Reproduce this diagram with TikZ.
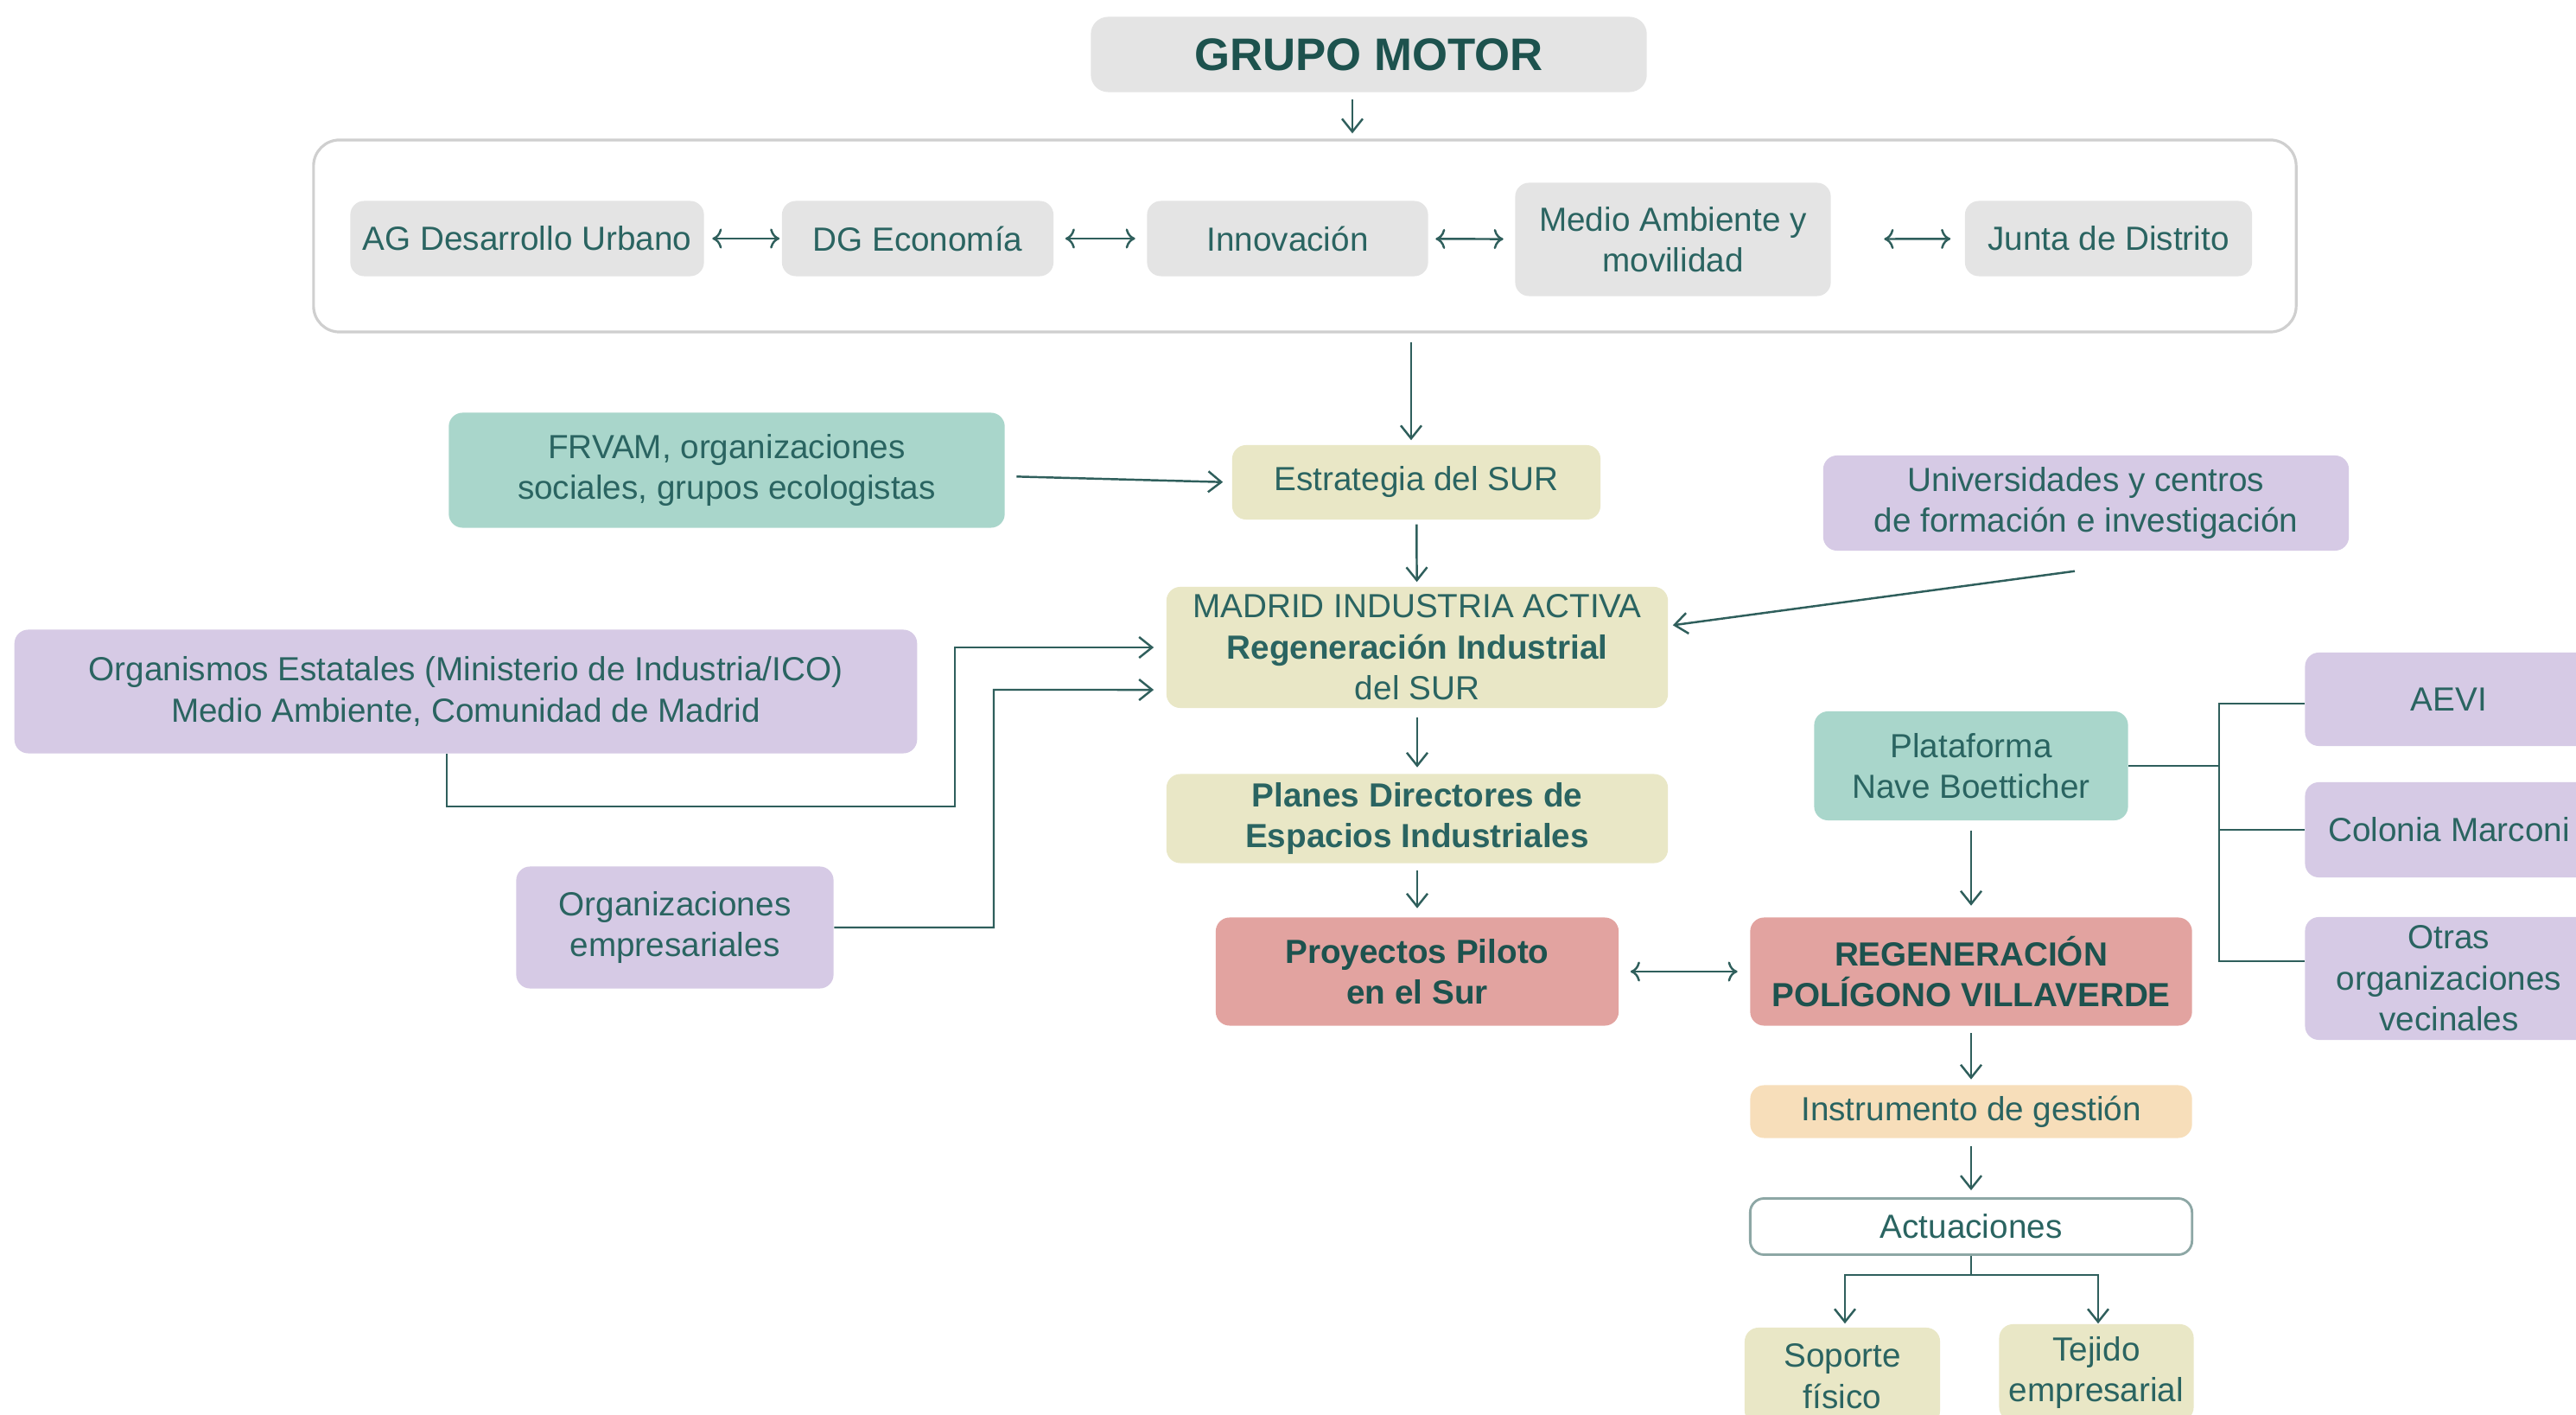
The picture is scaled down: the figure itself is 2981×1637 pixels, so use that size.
\documentclass[tikz,border=0pt]{standalone}
\usepackage{fontspec}
\setmainfont{Liberation Sans}
\usetikzlibrary{arrows.meta}
\definecolor{txt}{HTML}{2A6461}
\definecolor{txtdark}{HTML}{1D524E}
\definecolor{linec}{HTML}{2F5F5C}
\definecolor{boxgrey}{HTML}{E4E4E4}
\definecolor{boxsand}{HTML}{E9E7C6}
\definecolor{boxmint}{HTML}{A9D6CB}
\definecolor{boxlilac}{HTML}{D6CAE5}
\definecolor{boxrose}{HTML}{E2A3A0}
\definecolor{boxpeach}{HTML}{F7DEBA}
\definecolor{framec}{HTML}{CFCFCF}
\tikzset{
  box/.style={rounded corners=0.16cm, inner sep=0pt, align=center, text=txt,
    font=\fontsize{11}{13.5}\selectfont},
  grey/.style={box, fill=boxgrey},
  sand/.style={box, fill=boxsand},
  mint/.style={box, fill=boxmint},
  lilac/.style={box, fill=boxlilac},
  rose/.style={box, fill=boxrose, text=txtdark, font=\fontsize{11}{13.5}\selectfont\bfseries},
  peach/.style={box, fill=boxpeach},
  arr/.style={draw=linec, line width=0.7pt, -{Straight Barb[length=1.5mm,width=2.4mm]}},
  link/.style={draw=linec, line width=0.8pt}
}
\begin{document}
\begin{tikzpicture}[x=0.01cm, y=-0.01cm]
  \useasboundingbox (0,0) rectangle (2981,1637);
  \fill[white] (0,0) rectangle (2981,1637);
  \clip (0,0) rectangle (2981,1637);
  \node[grey, rounded corners=0.2cm, minimum width=6.43cm, minimum height=0.87cm, text=txtdark,
    font=\fontsize{15}{18}\selectfont\bfseries] (grupo) at (1584,63) {GRUPO MOTOR};
  \node[draw=framec, line width=0.9pt, rounded corners=0.3cm, minimum width=22.93cm,
    minimum height=2.22cm] (panel) at (1510,273) {};
  \node[grey, minimum width=4.09cm, minimum height=0.87cm] (ag) at (610,276) {AG Desarrollo Urbano};
  \node[grey, minimum width=3.14cm, minimum height=0.87cm] (dg) at (1062,276) {DG Economía};
  \node[grey, minimum width=3.25cm, minimum height=0.87cm] (innov) at (1490,276) {Innovación};
  \node[grey, minimum width=3.65cm, minimum height=1.31cm] (medio) at (1936,277) {Medio Ambiente y\\movilidad};
  \node[grey, minimum width=3.32cm, minimum height=0.87cm] (junta) at (2440,276) {Junta de Distrito};
  \node[sand, minimum width=4.26cm, minimum height=0.86cm] (estrategia) at (1639,558) {Estrategia del SUR};
  \node[mint, minimum width=6.43cm, minimum height=1.33cm] (frvam) at (841,544) {FRVAM, organizaciones\\sociales, grupos ecologistas};
  \node[lilac, minimum width=6.08cm, minimum height=1.10cm] (univ) at (2414,582) {Universidades y centros\\de formación e investigación};
  \node[sand, minimum width=5.80cm, minimum height=1.40cm] (madrid) at (1640,749) {MADRID INDUSTRIA ACTIVA\\\textbf{Regeneración Industrial}\\del SUR};
  \node[lilac, minimum width=10.44cm, minimum height=1.43cm] (organismos) at (539,800) {Organismos Estatales (Ministerio de Industria/ICO)\\Medio Ambiente, Comunidad de Madrid};
  \node[lilac, minimum width=3.67cm, minimum height=1.41cm] (orgemp) at (781,1073) {Organizaciones\\empresariales};
  \node[sand, minimum width=5.80cm, minimum height=1.03cm, font=\fontsize{11}{13.5}\selectfont\bfseries] (planes) at (1640,947) {Planes Directores de\\Espacios Industriales};
  \node[rose, minimum width=4.66cm, minimum height=1.25cm] (proyectos) at (1640,1124) {Proyectos Piloto\\en el Sur};
  \node[rose, minimum width=5.11cm, minimum height=1.25cm] (regen) at (2281,1124) {REGENERACIÓN\\POLÍGONO VILLAVERDE};
  \node[mint, minimum width=3.63cm, minimum height=1.26cm] (plataforma) at (2281,886) {Plataforma\\Nave Boetticher};
  \node[lilac, minimum width=3.33cm, minimum height=1.08cm] (aevi) at (2834,809) {AEVI};
  \node[lilac, minimum width=3.33cm, minimum height=1.10cm] (colonia) at (2834,960) {Colonia Marconi};
  \node[lilac, minimum width=3.33cm, minimum height=1.42cm] (otras) at (2834,1132) {Otras\\organizaciones\\vecinales};
  \node[peach, minimum width=5.11cm, minimum height=0.61cm] (instrumento) at (2281,1286) {Instrumento de gestión};
  \node[box, draw=linec!55, line width=0.8pt, fill=white, minimum width=5.11cm, minimum height=0.65cm] (actuaciones) at (2281,1419) {Actuaciones};
  \node[sand, minimum width=2.26cm, minimum height=1.12cm] (soporte) at (2132,1592) {Soporte\\físico};
  \node[sand, minimum width=2.25cm, minimum height=1.12cm] (tejido) at (2426,1588) {Tejido\\empresarial};
  \coordinate (bus) at (2568,886);
  \coordinate (split) at (2281,1475);
  \begin{scope}[arr]
    \draw[shorten <=0.08cm, shorten >=0.06cm] ([xshift=-0.19cm]grupo.south) -- ([xshift=-0.19cm]grupo.south |- panel.north);
    \draw[<->, shorten <=0.09cm, shorten >=0.02cm] (ag) -- (dg);
    \draw[<->, shorten <=0.13cm, shorten >=0.13cm] (dg) -- (innov);
    \draw[<->, shorten <=0.08cm, shorten >=0.13cm] (innov) -- (medio);
    \draw[<->, shorten <=0.61cm, shorten >=0.16cm] (medio) -- (junta);
    \draw[shorten <=0.1cm, shorten >=0.05cm] ([xshift=-0.06cm]estrategia.north |- panel.south) -- ([xshift=-0.06cm]estrategia.north);
    \draw[shorten <=0.13cm, shorten >=0.1cm] ([yshift=-0.07cm]frvam.east) -- (estrategia.west);
    \draw[shorten >=0.05cm] ([xshift=-0.13cm,yshift=-0.23cm]univ.south) -- ([yshift=0.25cm]madrid.east);
    \draw[shorten <=0.05cm, shorten >=0.05cm] (estrategia) -- (madrid);
    \draw[shorten >=0.14cm] ([xshift=-0.22cm]organismos.south) |- (1105,933) |- (madrid.west);
    \draw[shorten >=0.14cm] (orgemp.east) -| (1150,798) -- ([yshift=-0.49cm]madrid.west);
    \draw[shorten <=0.1cm, shorten >=0.07cm] (madrid) -- (planes);
    \draw[shorten <=0.08cm, shorten >=0.1cm] (planes) -- (proyectos);
    \draw[<->, shorten <=0.13cm, shorten >=0.14cm] (proyectos) -- (regen);
    \draw[shorten <=0.11cm, shorten >=0.13cm] (plataforma) -- (regen);
    \draw[shorten <=0.08cm, shorten >=0.06cm] (regen) -- (instrumento);
    \draw[shorten <=0.09cm, shorten >=0.08cm] (instrumento) -- (actuaciones);
    \draw[shorten >=0.04cm] (split) -| ([xshift=0.03cm]soporte.north);
    \draw[shorten >=0.04cm] (split) -| ([xshift=0.02cm]tejido.north |- soporte.north);
  \end{scope}
  \begin{scope}[link]
    \draw (actuaciones.south) -- (split);
    \draw (plataforma.east) -- (bus);
    \draw ([yshift=-0.05cm]aevi.west) -| (bus) |- ([yshift=0.2cm]otras.west);
    \draw (colonia.west) -- (colonia.west -| bus);
  \end{scope}
\end{tikzpicture}
\end{document}
